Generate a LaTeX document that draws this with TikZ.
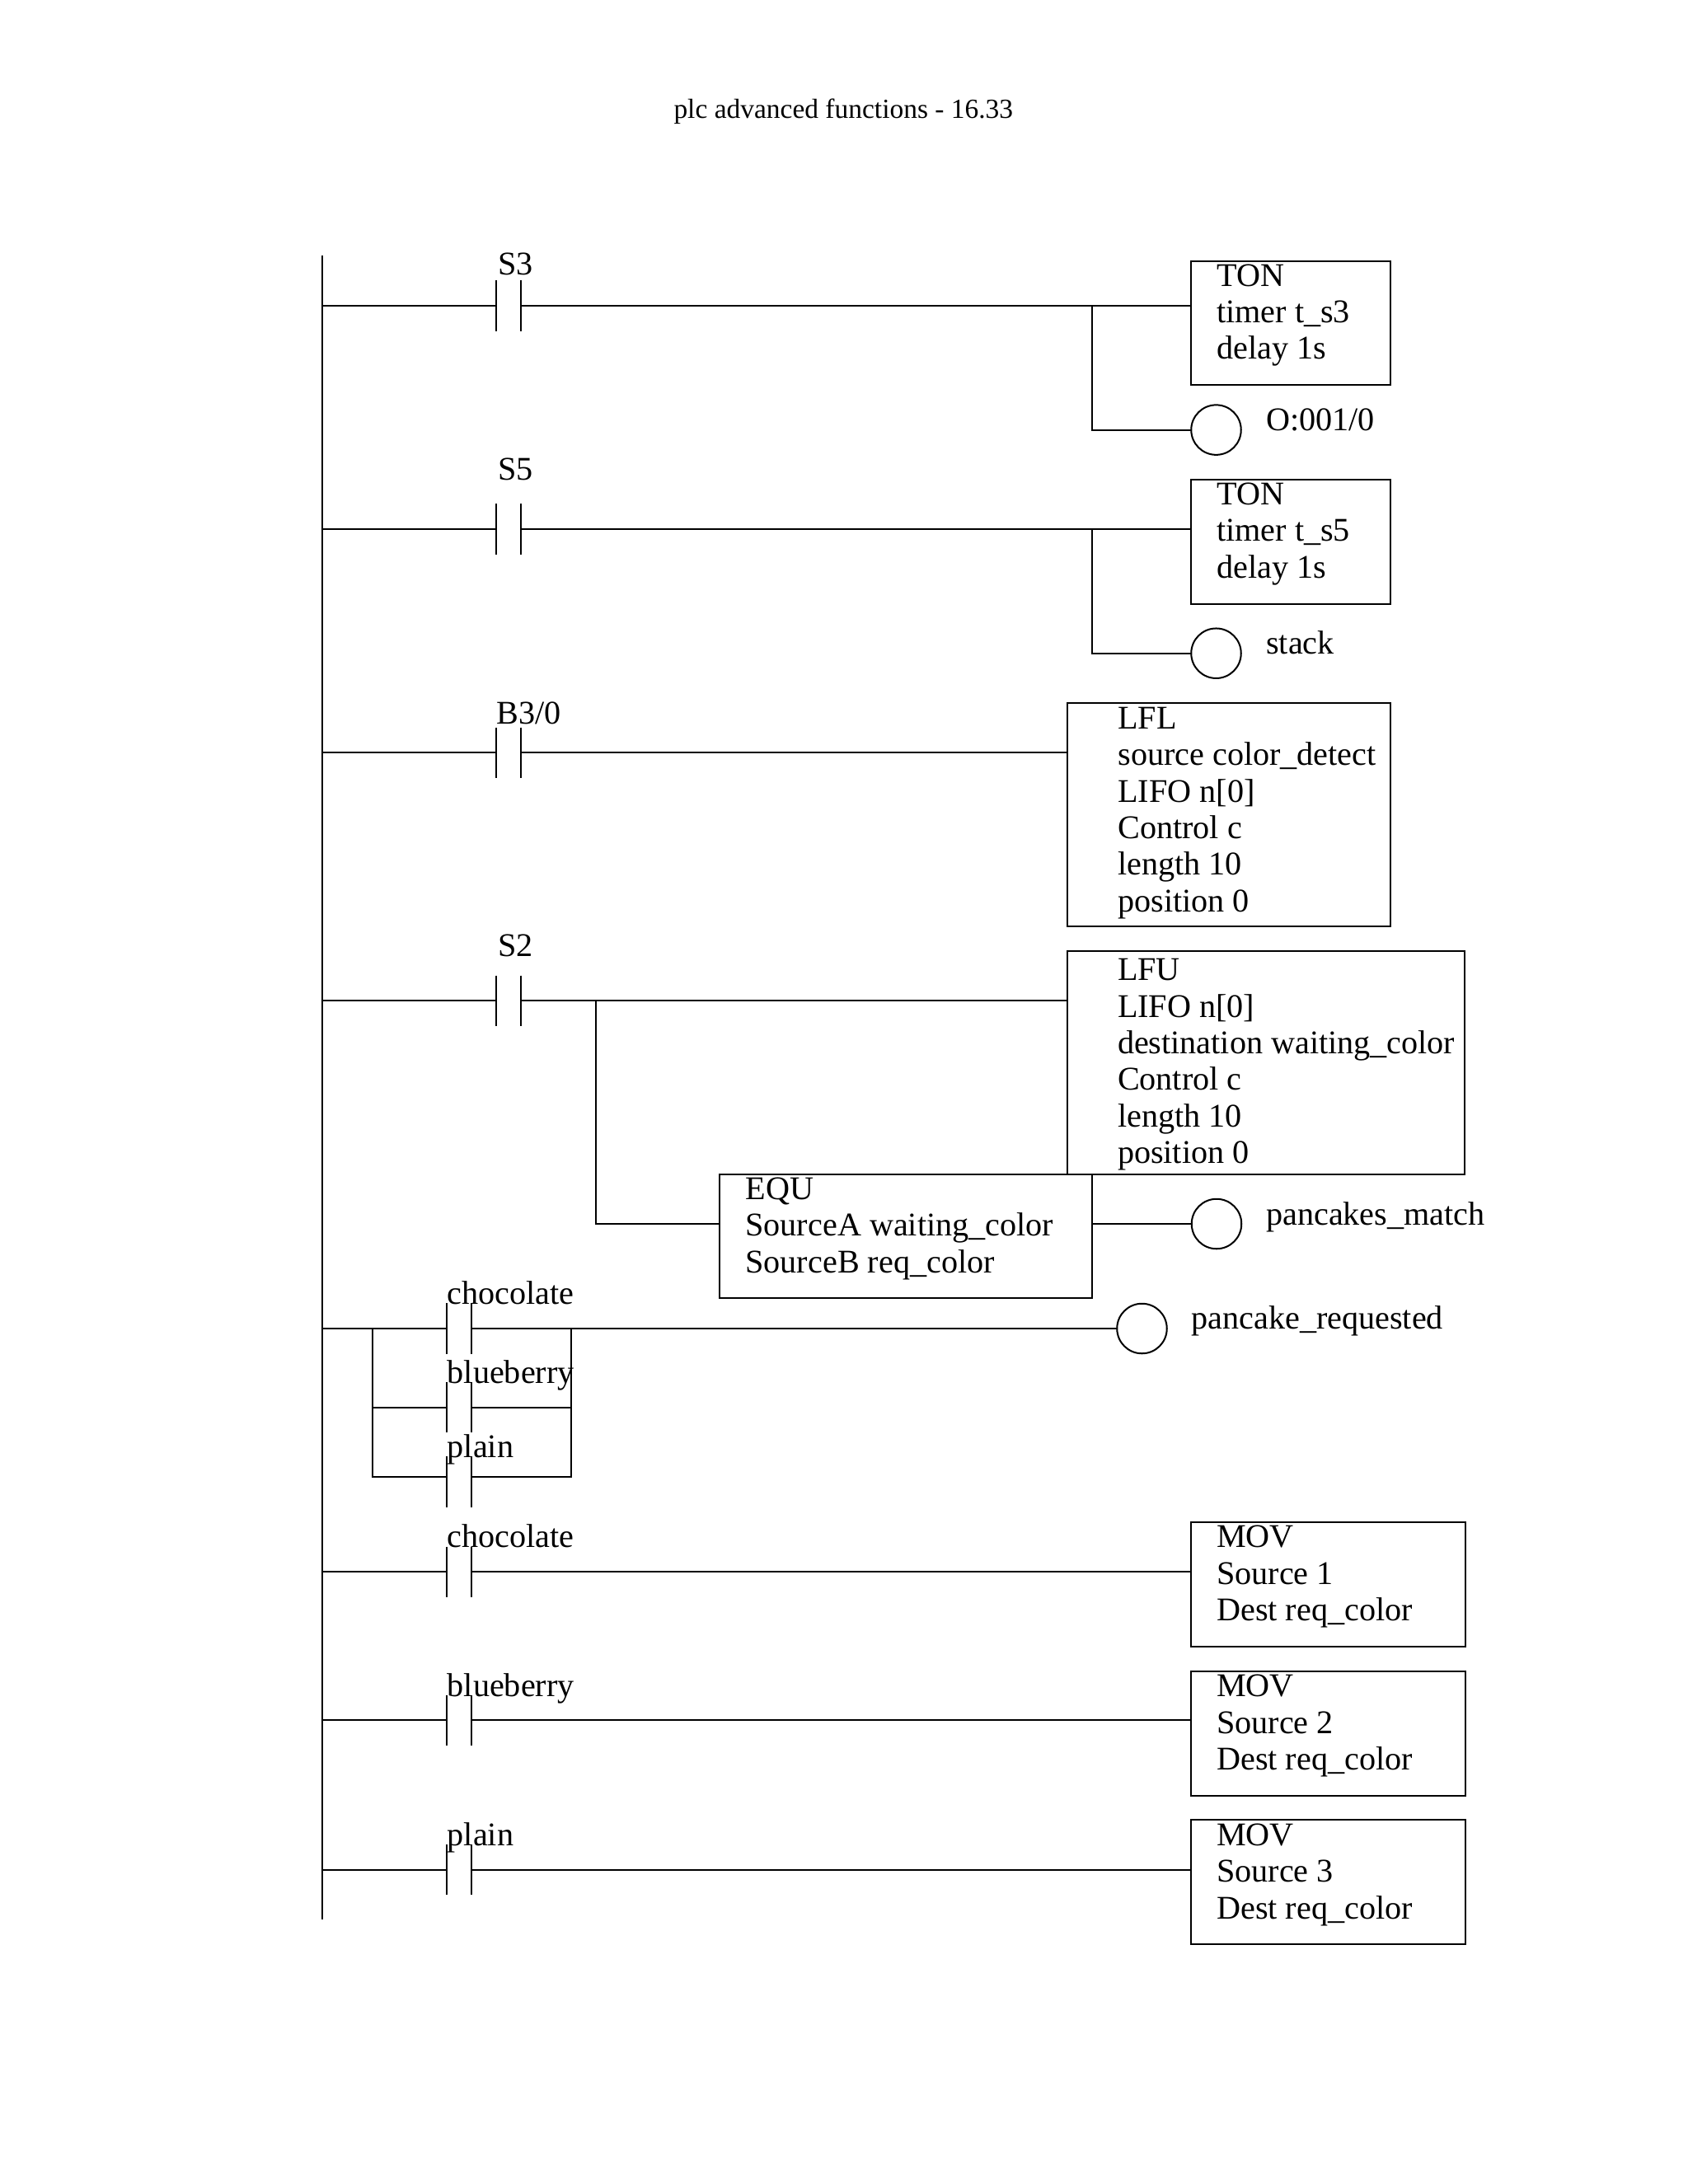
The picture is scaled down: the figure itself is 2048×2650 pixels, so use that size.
\documentclass[tikz,border=0pt]{standalone}
\usepackage{fontspec}
\setmainfont{Liberation Serif}
\def\px{0.29883pt}
\tikzstyle{plclab}=[anchor=base west, inner sep=0pt, xshift=-0.45pt, yshift=-0.3pt, font=\fontsize{12}{13.25}\selectfont]
\tikzstyle{plcbody}=[anchor=north west, inner sep=0pt, xshift=-0.45pt, align=left, font=\fontsize{12}{13.25}\selectfont]
\tikzstyle{plcbox}=[rectangle, draw, anchor=north west, inner sep=0pt, outer sep=0pt]
\tikzstyle{tonbox}=[plcbox, minimum width=241.5*\px, minimum height=150.7*\px]
\tikzstyle{movbox}=[plcbox, minimum width=332.2*\px, minimum height=151*\px]
\tikzstyle{coil}=[circle, draw, inner sep=0pt, outer sep=0pt, minimum size=60.5*\px]
\tikzstyle{contact}=[rectangle, inner sep=0pt, outer sep=0pt, minimum width=30.5*\px, minimum height=61.4*\px,
  append after command={(\tikzlastnode.north west) edge (\tikzlastnode.south west)
  (\tikzlastnode.north east) edge (\tikzlastnode.south east)}]

\begin{document}
\begin{tikzpicture}[x=\px, y=-\px, line width=0.6pt]
\useasboundingbox (0,0) rectangle (2048,2650);

\node[plclab, font=\fontsize{10}{12}\selectfont] (title) at (818,142.4) {plc advanced functions - 16.33};

% power rail
\coordinate (railtop) at (391.3,310);
\coordinate (railbot) at (391.3,2329.3);
\draw (railtop) -- (railbot);

% rung S3
\coordinate (r1) at (391.3,371);
\coordinate (b1) at (1325,371);
\node[contact] (c1) at (617,371) {};
\node[plclab] (c1lab) at (604.7,332.4) {S3};
\node[tonbox] (ton1) at (1445.3,316.5) {};
\node[plcbody] (ton1txt) at (1476.7,319.7) {TON\\timer t\_s3\\delay 1s};
\node[coil] (o1) at (1475.5,521.6) {};
\node[plclab] (o1lab) at (1536.8,521.4) {O:001/0};
\draw (r1) -- (c1.west);
\draw (c1.east) -- (c1.east -| ton1.west);
\draw (b1) |- (o1.west);

% rung S5
\coordinate (r2) at (391.3,641.8);
\coordinate (b2) at (1325,641.8);
\node[contact] (c2) at (617,641.8) {};
\node[plclab] (c2lab) at (604.7,581) {S5};
\node[tonbox] (ton2) at (1445.3,582) {};
\node[plcbody] (ton2txt) at (1476.7,584.9) {TON\\timer t\_s5\\delay 1s};
\node[coil] (stack) at (1475.5,792.7) {};
\node[plclab] (stacklab) at (1536.8,792.5) {stack};
\draw (r2) -- (c2.west);
\draw (c2.east) -- (c2.east -| ton2.west);
\draw (b2) |- (stack.west);

% rung B3/0
\coordinate (r3) at (391.3,913.4);
\node[contact] (c3) at (617,913.4) {};
\node[plclab] (c3lab) at (603.3,877) {B3/0};
\node[plcbox, minimum width=391.8*\px, minimum height=271*\px] (lfl) at (1295,853) {};
\node[plcbody] (lfltxt) at (1356.9,857) {LFL\\source color\_detect\\LIFO n[0]\\Control c\\length 10\\position 0};
\draw (r3) -- (c3.west);
\draw (c3.east) -- (c3.east -| lfl.west);

% rung S2
\coordinate (r4) at (391.3,1214.3);
\coordinate (b4) at (722.7,1214.3);
\node[contact] (c4) at (617,1214.3) {};
\node[plclab] (c4lab) at (604.7,1159.8) {S2};
\node[plcbox, minimum width=482.4*\px, minimum height=270.7*\px] (lfu) at (1294.7,1154.3) {};
\node[plcbody] (lfutxt) at (1356.5,1162.4) {LFU\\LIFO n[0]\\destination waiting\_color\\Control c\\length 10\\position 0};
\node[plcbox, minimum width=452*\px, minimum height=150*\px] (equ) at (873,1425) {};
\node[plcbody] (equtxt) at (905,1428) {EQU\\SourceA waiting\_color\\SourceB req\_color};
\node[coil] (match) at (1476,1485) {};
\node[plclab] (matchlab) at (1536.7,1485) {pancakes\_match};
\draw (r4) -- (c4.west);
\draw (c4.east) -- (c4.east -| lfu.west);
\draw (b4) |- (equ.west |- match);
\draw (equ.east |- match) -- (match.west);

% rung pancake requested
\coordinate (r5) at (391.3,1612);
\coordinate (bl) at (451.7,1612);
\coordinate (br) at (692.7,1612);
\coordinate (p7) at (557,1792.3);
\node[contact] (c5) at (557,1612) {};
\node[contact] (c6) at (557,1707.7) {};
\node[contact] (c7) at (557,1797.9) {};
\node[plclab] (c5lab) at (543.3,1581.7) {chocolate};
\node[plclab] (c6lab) at (543.3,1677) {blueberry};
\node[plclab] (c7lab) at (543.3,1767.7) {plain};
\node[coil] (req) at (1385.5,1612) {};
\node[plclab] (reqlab) at (1446,1611.5) {pancake\_requested};
\draw (r5) -- (c5.west);
\draw (c5.east) -- (req.west);
\draw (bl) |- (c7.west |- p7);
\draw (c7.east |- p7) -| (br);
\draw (bl |- c6) -- (c6.west);
\draw (c6.east) -- (br |- c6);

% rung MOV 1
\coordinate (r6) at (391.3,1907.3);
\node[contact] (c8) at (557,1907.3) {};
\node[plclab] (c8lab) at (543.3,1876.7) {chocolate};
\node[movbox] (mov1) at (1445.3,1846.7) {};
\node[plcbody] (mov1txt) at (1476.7,1850.3) {MOV\\Source 1\\Dest req\_color};
\draw (r6) -- (c8.west);
\draw (c8.east) -- (c8.east -| mov1.west);

% rung MOV 2
\coordinate (r7) at (391.3,2087.3);
\node[contact] (c9) at (557,2087.3) {};
\node[plclab] (c9lab) at (543.3,2057.3) {blueberry};
\node[movbox] (mov2) at (1445.3,2027.7) {};
\node[plcbody] (mov2txt) at (1476.7,2031.3) {MOV\\Source 2\\Dest req\_color};
\draw (r7) -- (c9.west);
\draw (c9.east) -- (c9.east -| mov2.west);

% rung MOV 3
\coordinate (r8) at (391.3,2268.5);
\node[contact] (c10) at (557,2268.5) {};
\node[plclab] (c10lab) at (543.3,2238.3) {plain};
\node[movbox] (mov3) at (1445.3,2208.3) {};
\node[plcbody] (mov3txt) at (1476.7,2211.9) {MOV\\Source 3\\Dest req\_color};
\draw (r8) -- (c10.west);
\draw (c10.east) -- (c10.east -| mov3.west);

\end{tikzpicture}
\end{document}
